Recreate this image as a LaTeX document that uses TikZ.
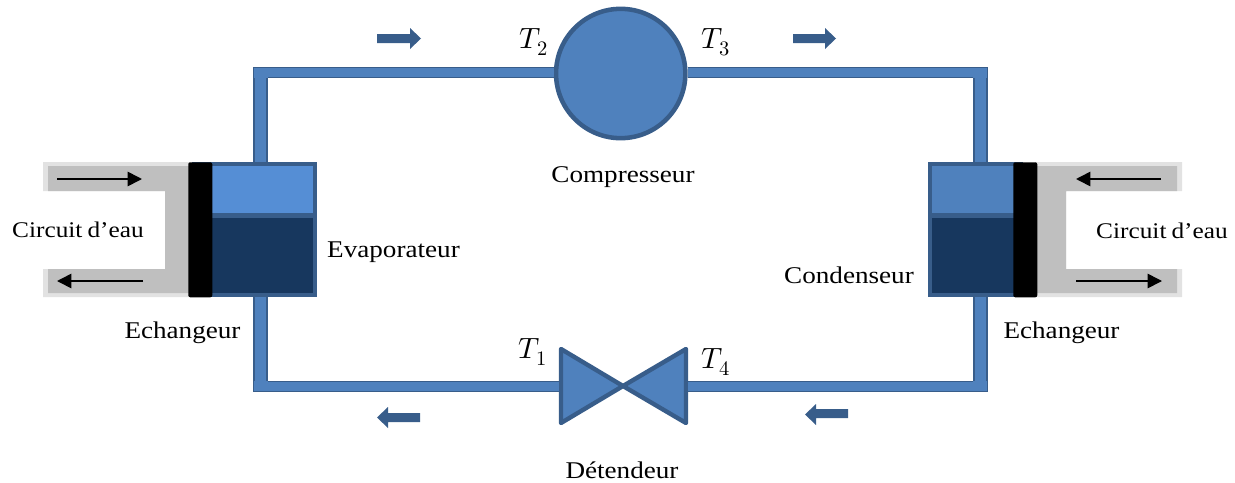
\documentclass[tikz,border=0pt]{standalone}
\usepackage{fontspec}
\usepackage{unicode-math}
\setmainfont[FakeStretch=1.13,WordSpace=0.8]{Liberation Serif}
\setmathfont{Latin Modern Math}
\usetikzlibrary{arrows.meta}
\definecolor{pipeFill}{HTML}{4F81BD}
\definecolor{pipeEdge}{HTML}{385D8A}
\definecolor{lightTank}{HTML}{558ED5}
\definecolor{darkTank}{HTML}{17375E}
\definecolor{waterFill}{HTML}{BFBFBF}
\definecolor{waterEdge}{HTML}{E2E2E2}
\tikzset{
  x=0.75pt,y=-0.75pt,
  lbl/.style={inner sep=0pt,font=\fontsize{18}{20}\selectfont,text=black},
  clbl/.style={inner sep=0pt,font=\fontsize{16.8}{20}\selectfont,text=black},
  tlbl/.style={inner sep=0pt,font=\fontsize{22}{24}\selectfont,text=black},
  hpipe/.style={draw=pipeEdge,line width=1pt,double=pipeFill,double distance=6.4pt},
  vpipe/.style={draw=pipeEdge,line width=1.4pt,double=pipeFill,double distance=8.5pt},
  tankpart/.style={draw=pipeEdge,line width=3pt,rectangle,inner sep=0pt,anchor=north west},
  bar/.style={fill=black,rectangle,rounded corners=1.5pt,inner sep=0pt,anchor=north west},
  flow/.style={draw=black,line width=1.2pt,-{Triangle[length=10.7pt,width=10.7pt]}},
  block/.style={fill=pipeEdge,draw=none},
  valvepart/.style={fill=pipeFill,draw=pipeEdge,line width=3.3pt,line join=round},
}
\newcommand\pipecorner[3]{%
  \fill[pipeFill] ([shift={(-7.5,-5.5)}]#1) rectangle ([shift={(7.5,5.5)}]#1);
  \draw[pipeEdge,line width=1.1pt] ([shift={({#2*6.8},{-#3*5.5})}]#1) -- ([shift={({#2*6.8},{#3*4.8})}]#1) -- ([shift={({-#2*7.5},{#3*4.8})}]#1);
}
\begin{document}
\begin{tikzpicture}
\useasboundingbox (0,0) rectangle (1235,482);
% water circuits
\fill[waterEdge] (190,162) -- (43,162) -- (43,191) -- (165,191) -- (165,269) -- (43,269) -- (43,297) -- (190,297) -- cycle;
\fill[waterFill] (190,166) -- (48,166) -- (48,191) -- (165,191) -- (165,269) -- (48,269) -- (48,293) -- (190,293) -- cycle;
\fill[waterEdge] (1035,162) -- (1182,162) -- (1182,191) -- (1066,191) -- (1066,269) -- (1182,269) -- (1182,297) -- (1035,297) -- cycle;
\fill[waterFill] (1035,166) -- (1177,166) -- (1177,191) -- (1066,191) -- (1066,269) -- (1177,269) -- (1177,293) -- (1035,293) -- cycle;
% evaporator
\node[tankpart,fill=darkTank,minimum width=90.75pt,minimum height=59.6pt] (evapLow) at (192,213.5) {};
\node[tankpart,fill=lightTank,minimum width=90.75pt,minimum height=38.6pt] (evapUp) at (192,162) {};
\node[bar,minimum width=18pt,minimum height=101.25pt] (evapBar) at (188,162) {};
% condenser
\node[tankpart,fill=darkTank,minimum width=68pt,minimum height=59.6pt] (condLow) at (928,213.5) {};
\node[tankpart,fill=pipeFill,minimum width=68pt,minimum height=38.6pt] (condUp) at (928,162) {};
\node[bar,minimum width=18pt,minimum height=101.25pt] (condBar) at (1013,162) {};
% compressor
\node[circle,draw=pipeEdge,fill=pipeFill,line width=3.4pt,minimum size=97pt,inner sep=0pt] (comp) at (620.7,73.5) {};
% valve
\coordinate (vc) at (623,386);
\draw[valvepart] (561,349) -- (vc) -- (561,423) -- cycle;
\draw[valvepart] (686,349) -- (vc) -- (686,423) -- cycle;
\coordinate (vw) at (559,386.5);
\coordinate (ve) at (688,386.5);
% corners
\coordinate (ctl) at (260.5,72.5);
\coordinate (ctr) at (980.5,72.5);
\coordinate (cbl) at (260.5,386.5);
\coordinate (cbr) at (980.5,386.5);
% pipes
\draw[vpipe] (evapUp.north -| ctl) -- ([yshift=-4.1pt]ctl);
\draw[vpipe] (evapLow.south -| cbl) -- ([yshift=4.1pt]cbl);
\draw[vpipe] (condUp.north -| ctr) -- ([yshift=-4.1pt]ctr);
\draw[vpipe] (condLow.south -| cbr) -- ([yshift=4.1pt]cbr);
\draw[hpipe] ([xshift=5.6pt]ctl) -- (comp.west |- ctl);
\draw[hpipe] (comp.east |- ctr) -- ([xshift=-5.6pt]ctr);
\draw[hpipe] ([xshift=5.6pt]cbl) -- (vw);
\draw[hpipe] (ve) -- ([xshift=-5.6pt]cbr);
\pipecorner{ctl}{-1}{-1}
\pipecorner{ctr}{1}{-1}
\pipecorner{cbl}{-1}{1}
\pipecorner{cbr}{1}{1}
% block arrows
\fill[block] (377,34) -- (410,34) -- (410,28) -- (421,38.5) -- (410,49) -- (410,43) -- (377,43) -- cycle;
\fill[block] (793,34) -- (825,34) -- (825,28) -- (836,38.5) -- (825,49) -- (825,43) -- (793,43) -- cycle;
\fill[block] (420,413) -- (388,413) -- (388,407) -- (377,417.5) -- (388,428) -- (388,422) -- (420,422) -- cycle;
\fill[block] (848,409) -- (816,409) -- (816,404) -- (805,414.5) -- (816,425) -- (816,418) -- (848,418) -- cycle;
% water flow arrows
\coordinate (fa1) at (57,179); \coordinate (fa2) at (142,179);
\coordinate (fb1) at (143,281); \coordinate (fb2) at (57,281);
\coordinate (fc1) at (1161,179); \coordinate (fc2) at (1076,179);
\coordinate (fd1) at (1076,281); \coordinate (fd2) at (1162,281);
\draw[flow] (fa1) -- (fa2);
\draw[flow] (fb1) -- (fb2);
\draw[flow] (fc1) -- (fc2);
\draw[flow] (fd1) -- (fd2);
% labels
\node[clbl] (t1) at (78,230) {Circuit d’eau};
\node[clbl] (t2) at (1162,231) {Circuit d’eau};
\node[lbl] (t3) at (393.5,252) {Evaporateur};
\node[lbl] (t4) at (849,275) {Condenseur};
\node[lbl] (t5) at (182.5,333) {Echangeur};
\node[lbl] (t6) at (1061.5,333) {Echangeur};
\node[lbl] (t7) at (623,177) {Compresseur};
\node[lbl] (t8) at (622,470.5) {Détendeur};
\node[tlbl] (T2) at (534,42) {$T_2$};
\node[tlbl] (T3) at (716,42) {$T_3$};
\node[tlbl] (T1) at (533,352) {$T_1$};
\node[tlbl] (T4) at (716,362) {$T_4$};
\end{tikzpicture}
\end{document}
